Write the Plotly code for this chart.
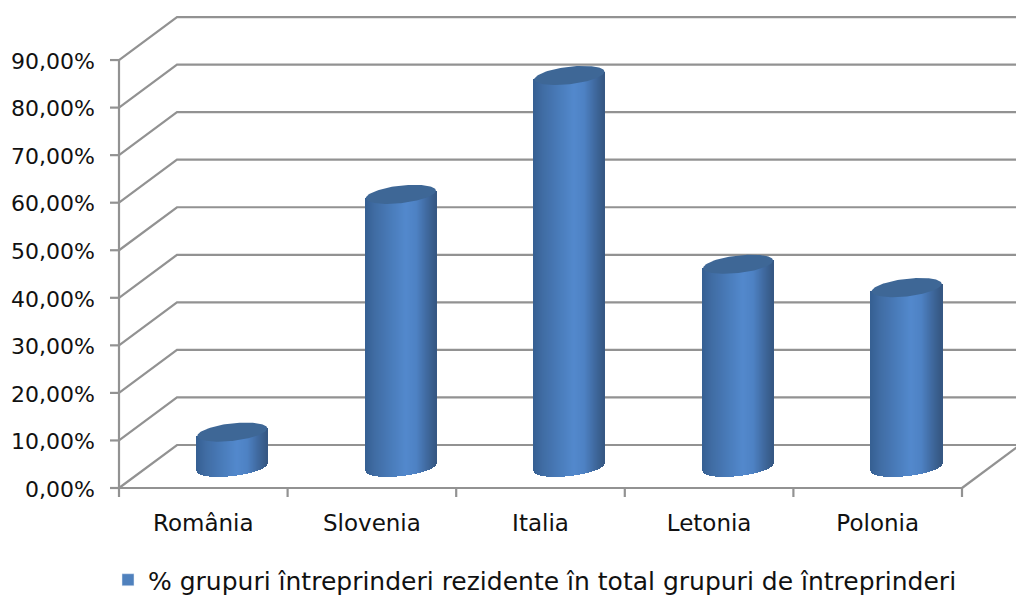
import numpy as np
import plotly.graph_objects as go

categories = ["România", "Slovenia", "Italia", "Letonia", "Polonia"]
values = [7.4, 57.4, 82.4, 42.7, 37.8]
y_ticks = [0, 10, 20, 30, 40, 50, 60, 70, 80, 90]
y_labels = ["0,00%", "10,00%", "20,00%", "30,00%", "40,00%", "50,00%", "60,00%", "70,00%", "80,00%", "90,00%"]
series_name = "% grupuri întreprinderi rezidente în total grupuri de întreprinderi"

W, H = 1016, 596
X0_PX, Y0_PX = 119, 488       # pixel position of the front corner of the floor
PAD = 14                      # extra plot room so axis lines and ticks are not clipped
L, T, B = X0_PX - PAD, 8, H - Y0_PX - PAD
PX_X = 168.6                  # px per category
PX_Y = 4.755                  # px per percentage point
DX, DY = 58 / PX_X, 43 / PX_Y  # wall depth in axis units
xmin = -0.5
xlo = xmin - PAD / PX_X
xmax = xmin + (W - X0_PX) / PX_X
ylo = -PAD / PX_Y
ymax = (Y0_PX - T) / PX_Y
GRID = "#929292"
LW = 2.2
FONT = "DejaVu Sans"

A = 35 / PX_X                 # cylinder half width
BMIN = 8.8 / PX_Y             # ellipse half height
SLOPE = 3.8 / PX_Y            # tilt of the ellipse over a half width
BASE = 4.35                   # centre of the floor ellipse
SHIFT = 0.5 * DX


def rim(u, sign):
    return SLOPE * u + sign * BMIN * np.sqrt(np.clip(1 - u * u, 0, 1))


def shade(u):
    stops_u = [-1.0, -0.75, -0.3, 0.15, 0.45, 0.8, 1.0]
    stops_c = [(54, 96, 147), (64, 108, 163), (73, 123, 185), (83, 137, 205), (78, 130, 196), (62, 102, 154), (54, 88, 132)]
    c = [np.interp(u, stops_u, [s[i] for s in stops_c]) for i in range(3)]
    return "rgb(%d,%d,%d)" % tuple(c)


line = dict(color=GRID, width=LW)
shapes = []
for v in y_ticks:
    shapes.append(dict(type="path", layer="below", line=line,
                       path=f"M{xmin},{v} L{xmin + DX},{v + DY} L{xmax + 0.05},{v + DY}"))
    shapes.append(dict(type="line", layer="below", line=line,
                       x0=xmin - 9 / PX_X, x1=xmin, y0=v, y1=v))
for k in range(len(categories) + 1):
    shapes.append(dict(type="line", layer="below", line=line,
                       x0=xmin + k, x1=xmin + k, y0=-9 / PX_Y, y1=0))
shapes.append(dict(type="line", layer="below", line=line,
                   x0=xmin, x1=xmin, y0=0, y1=y_ticks[-1]))
shapes.append(dict(type="line", layer="below", line=line,
                   x0=xmin, x1=xmin + len(categories), y0=0, y1=0))
shapes.append(dict(type="line", layer="below", line=line,
                   x0=xmin + len(categories), x1=xmin + len(categories) + DX, y0=0, y1=DY))

fig = go.Figure()
us = np.linspace(-1, 1, 71)
sx, sbase, sh, scol = [], [], [], []
for i, v in enumerate(values):
    cx = i + SHIFT
    for u in us:
        sx.append(cx + u * A)
        b = BASE + rim(u, -1)
        t = BASE + v + SLOPE * u
        sbase.append(b)
        sh.append(t - b)
        scol.append(shade(u))
fig.add_bar(x=sx, y=sh, base=sbase, width=1.6 / PX_X, showlegend=False, hoverinfo="skip",
            marker=dict(color=scol, line=dict(width=0)))
fig.add_bar(x=[None], y=[None], name=series_name, marker=dict(color="#4f81bd"))

t = np.linspace(0, 2 * np.pi, 121)
for i, v in enumerate(values):
    cx = i + SHIFT
    u = np.cos(t)
    fig.add_scatter(x=cx + A * u, y=BASE + v + SLOPE * u + BMIN * np.sin(t), mode="lines",
                    fill="toself", fillcolor="#3e6796", line=dict(width=0),
                    showlegend=False, hoverinfo="skip")

fig.update_layout(
    width=W, height=H, margin=dict(l=L, r=0, t=T, b=B, autoexpand=False),
    paper_bgcolor="white", plot_bgcolor="white", barmode="overlay", bargap=0,
    font=dict(family=FONT, size=22, color="#111111"),
    shapes=shapes,
    legend=dict(orientation="h", x=108 / W, xref="container", xanchor="left",
                y=-(580 - 502) / (502 - T), yref="paper", yanchor="middle",
                font=dict(size=25), itemwidth=30, bgcolor="rgba(0,0,0,0)"),
    xaxis=dict(range=[xlo, xmax], showgrid=False, zeroline=False, showline=False,
               tickmode="array", tickvals=list(range(len(categories))), ticktext=categories,
               ticks="", ticklabelstandoff=5, tickfont=dict(size=23)),
    yaxis=dict(range=[ylo, ymax], showgrid=False, zeroline=False, showline=False,
               tickmode="array", tickvals=y_ticks, ticktext=y_labels,
               ticks="", ticklabelstandoff=9, ticklabelshift=1),
)
fig.write_html("out.html", config={"displayModeBar": False},
               post_script="document.body.style.margin='0';document.body.style.overflow='hidden';")
